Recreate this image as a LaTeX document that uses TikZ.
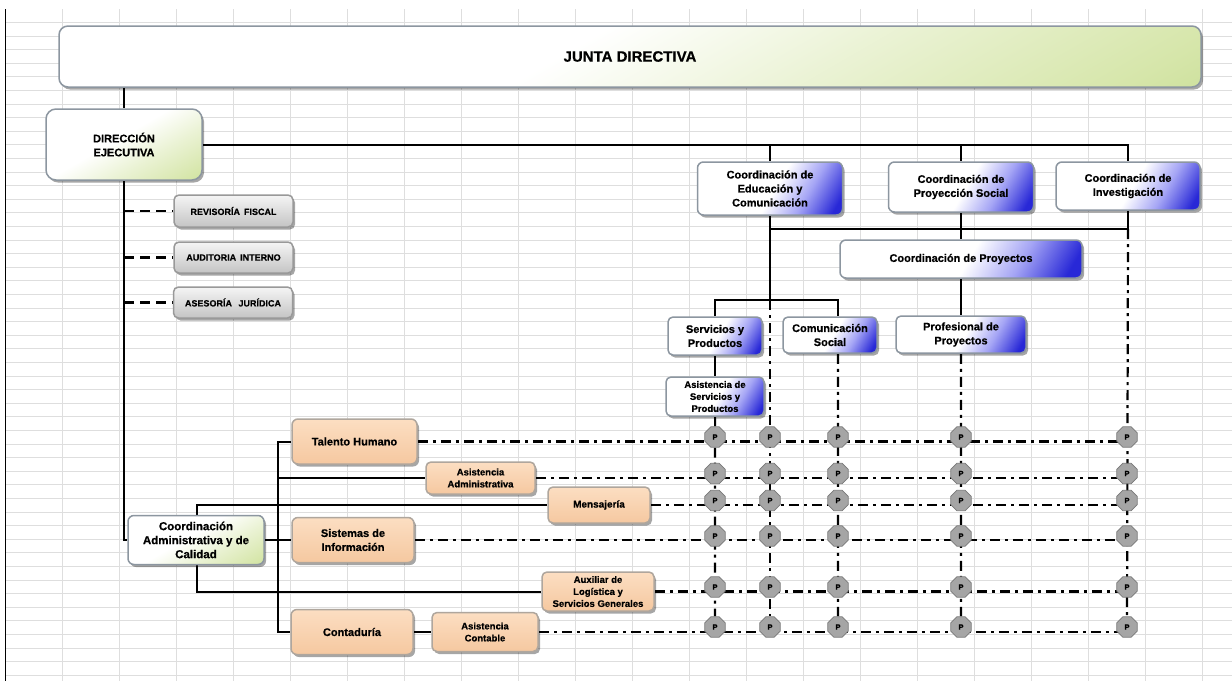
\documentclass[tikz,border=0pt]{standalone}
\usepackage{fontspec}
\setmainfont[BoldFeatures={FakeBold=0.6}]{Liberation Sans}
\usetikzlibrary{shapes.geometric,shadows,calc}
\pgfdeclarelayer{bg}
\pgfsetlayers{bg,main}
\definecolor{gridc}{RGB}{222,222,222}
\definecolor{bordc}{RGB}{140,150,160}
\definecolor{greenL}{RGB}{214,230,170}
\definecolor{greenD}{RGB}{180,208,120}
\definecolor{blueL}{RGB}{165,165,245}
\definecolor{blueD}{RGB}{40,40,215}
\definecolor{peachT}{RGB}{252,222,194}
\definecolor{peachB}{RGB}{245,200,160}
\definecolor{peachBord}{RGB}{140,128,115}
\definecolor{grayT}{RGB}{245,245,245}
\definecolor{grayB}{RGB}{196,196,196}
\definecolor{pfill}{RGB}{165,165,165}
\definecolor{pbord}{RGB}{120,120,120}
\pgfdeclarehorizontalshading{greensh}{100bp}{color(0bp)=(white); color(46bp)=(white); color(62bp)=(greenL!50!white); color(80bp)=(greenL); color(100bp)=(greenD)}
\pgfdeclarehorizontalshading{bluesh}{100bp}{color(0bp)=(white); color(52bp)=(white); color(66bp)=(blueL); color(80bp)=(blueD); color(100bp)=(blueD)}
\tikzset{
  box/.style={rounded corners=6pt, draw=bordc, line width=1.5pt, align=center,
    inner sep=2pt, font=\fontsize{11}{14}\selectfont\bfseries,
    drop shadow={shadow xshift=2pt, shadow yshift=-2.5pt, fill=black, opacity=0.35}},
  greenbox/.style={box, shade, shading=greensh, shading angle=-60},
  bluebox/.style={box, shade, shading=bluesh, shading angle=-30},
  graybox/.style={box, top color=grayT, bottom color=grayB, rounded corners=5pt,
    draw=gray!80, font=\fontsize{9}{11}\selectfont\bfseries},
  peachbox/.style={box, top color=peachT, bottom color=peachB, draw=peachBord!70},
  smalltext/.style={font=\fontsize{9.5}{12}\selectfont\bfseries},
  pnode/.style={regular polygon, regular polygon sides=8, minimum size=22pt, inner sep=0pt,
    fill=pfill, draw=pbord, line width=0.8pt, font=\fontsize{7.5}{8}\selectfont\bfseries},
  conn/.style={line width=2pt, black},
  dsh/.style={line width=2.2pt, black, dash pattern=on 10pt off 6pt},
  dd/.style={line width=2.2pt, black, dash pattern=on 10pt off 5pt on 3pt off 5pt}
}
\begin{document}
\begin{tikzpicture}[x=1pt, y=-1pt]
\useasboundingbox (0,0) rectangle (1232,681);
\begin{pgfonlayer}{bg}
  \fill[white] (0,0) rectangle (1232,681);
  \foreach \k in {0,...,48} \draw[gridc, line width=0.8pt] (6,22.3+13.6*\k) -- (1232,22.3+13.6*\k);
  \foreach \j in {0,...,20} \draw[gridc, line width=0.8pt] (62+57*\j,9) -- (62+57*\j,681);
  \draw[line width=1.5pt] (5.7,9) -- (5.7,681);
\end{pgfonlayer}

% top
\node[greenbox, rounded corners=9pt, minimum width=1142pt, minimum height=61pt, font=\fontsize{15}{18}\selectfont\bfseries] (junta) at (630,56.5) {JUNTA DIRECTIVA};
\node[greenbox, rounded corners=10pt, minimum width=156pt, minimum height=71pt] (dir) at (124,144.5) {DIRECCIÓN\\EJECUTIVA};

% staff
\node[graybox, minimum width=119pt, minimum height=32pt] (rev) at (233.5,211) {REVISORÍA~\,FISCAL};
\node[graybox, minimum width=119pt, minimum height=31pt] (aud) at (233.5,257.5) {AUDITORIA~\,INTERNO};
\node[graybox, minimum width=119pt, minimum height=31pt] (ase) at (233,302.5) {ASESORÍA~\,~JURÍDICA};

% coordinations
\node[bluebox, minimum width=145pt, minimum height=53pt] (edu) at (770,188.5) {Coordinación de\\Educación y\\Comunicación};
\node[bluebox, minimum width=145pt, minimum height=50pt] (proy) at (961,187) {Coordinación de\\Proyección Social};
\node[bluebox, minimum width=144pt, minimum height=48pt] (inv) at (1128,186) {Coordinación de\\Investigación};
\node[bluebox, minimum width=242pt, minimum height=38pt] (cproy) at (961,259) {Coordinación de Proyectos};
\node[bluebox, rounded corners=5pt, minimum width=94pt, minimum height=38pt] (sp) at (715,336) {Servicios y\\Productos};
\node[bluebox, rounded corners=5pt, minimum width=94pt, minimum height=36pt] (cs) at (830,335) {Comunicación\\Social};
\node[bluebox, rounded corners=5pt, minimum width=130pt, minimum height=37pt] (prof) at (961,334.5) {Profesional de\\Proyectos};
\node[bluebox, smalltext, rounded corners=5pt, minimum width=98pt, minimum height=39pt] (asp) at (715,396.5) {Asistencia de\\Servicios y\\Productos};

% administrative
\node[greenbox, minimum width=136pt, minimum height=49pt, font=\fontsize{11.5}{14}\selectfont\bfseries] (cadm) at (196,540) {Coordinación\\Administrativa y de\\Calidad};
\node[peachbox, minimum width=125pt, minimum height=45pt] (th) at (354.5,441.5) {Talento Humano};
\node[peachbox, minimum width=122pt, minimum height=45pt] (si) at (353,540) {Sistemas de\\Información};
\node[peachbox, minimum width=122pt, minimum height=45pt] (cont) at (352,632) {Contaduría};
\node[peachbox, smalltext, rounded corners=5pt, minimum width=109pt, minimum height=32pt] (aa) at (480.5,478) {Asistencia\\Administrativa};
\node[peachbox, rounded corners=5pt, minimum width=102pt, minimum height=36pt, font=\fontsize{10}{12}\selectfont\bfseries] (men) at (599,505) {Mensajería};
\node[peachbox, smalltext, rounded corners=5pt, minimum width=112pt, minimum height=39pt] (aux) at (598,591.5) {Auxiliar de\\Logística y\\Servicios Generales};
\node[peachbox, smalltext, rounded corners=5pt, minimum width=106pt, minimum height=39pt] (ac) at (485,632) {Asistencia\\Contable};

% P nodes
\foreach \r/\yy in {1/437,2/473.5,3/500.5,4/536,5/587,6/627}
  \foreach \c/\xx in {1/715,2/770,3/838,4/961,5/1127}
    \node[pnode] (p\r\c) at (\xx,\yy) {P};

\coordinate (jb) at (770,300);
\coordinate (barR) at (838,300);
\coordinate (c229) at (1128,229);
\coordinate (trB) at (278,632);

\begin{pgfonlayer}{bg}
  % solid connectors
  \draw[conn] (dir.north |- junta.south) -- (dir.north);
  \draw[conn] (dir.east) -| (inv.north);
  \draw[conn] (edu.north |- dir.east) -- (edu.north);
  \draw[conn] (proy.north |- dir.east) -- (proy.north);
  \draw[conn] (dir.south) |- (cadm.west);
  \draw[conn] (edu.south) -- (jb);
  \draw[conn] (inv.south) -- (c229) -- (edu.south |- c229);
  \draw[conn] (proy.south) -- (cproy.north);
  \draw[conn] (cproy.south) -- (prof.north);
  \draw[conn] (sp.north) |- (barR) -- (barR |- cs.north);
  \draw[conn] (sp.south) -- (asp.north);
  \draw[conn] (asp.south) -- (p11);
  \draw[conn] (th.west) -| (trB) -- (cont.west);
  \draw[conn] (trB |- aa.west) -- (aa.west);
  \draw[conn] (cadm.east) -- (si.west);
  \draw[conn] ([xshift=1pt]cadm.north) |- (men.west);
  \draw[conn] ([xshift=1pt]cadm.south) |- (aux.west);
  \draw[conn] (cont.east) -- (ac.west);
  % dashed staff lines
  \draw[dsh] (dir.south |- rev.west) -- (rev.west);
  \draw[dsh] (dir.south |- aud.west) -- (aud.west);
  \draw[dsh] (dir.south |- ase.west) -- (ase.west);
  % dash-dot verticals
  \draw[dd] (p11) -- (p61);
  \draw[dd] (jb) -- (p62);
  \draw[dd] (p13 |- cs.south) -- (p63);
  \draw[dd] (prof.south) -- (p64);
  \draw[dd] (c229) -- (p65);
  % dash-dot horizontals
  \draw[dd] (th.east) -- (th.east -| p15.center);
  \draw[dd] (aa.east) -- (aa.east -| p25.center);
  \draw[dd] (men.east) -- (men.east -| p35.center);
  \draw[dd] (si.east) -- (si.east -| p45.center);
  \draw[dd] (aux.east) -- (aux.east -| p55.center);
  \draw[dd] (ac.east) -- (ac.east -| p65.center);
\end{pgfonlayer}
\end{tikzpicture}
\end{document}
